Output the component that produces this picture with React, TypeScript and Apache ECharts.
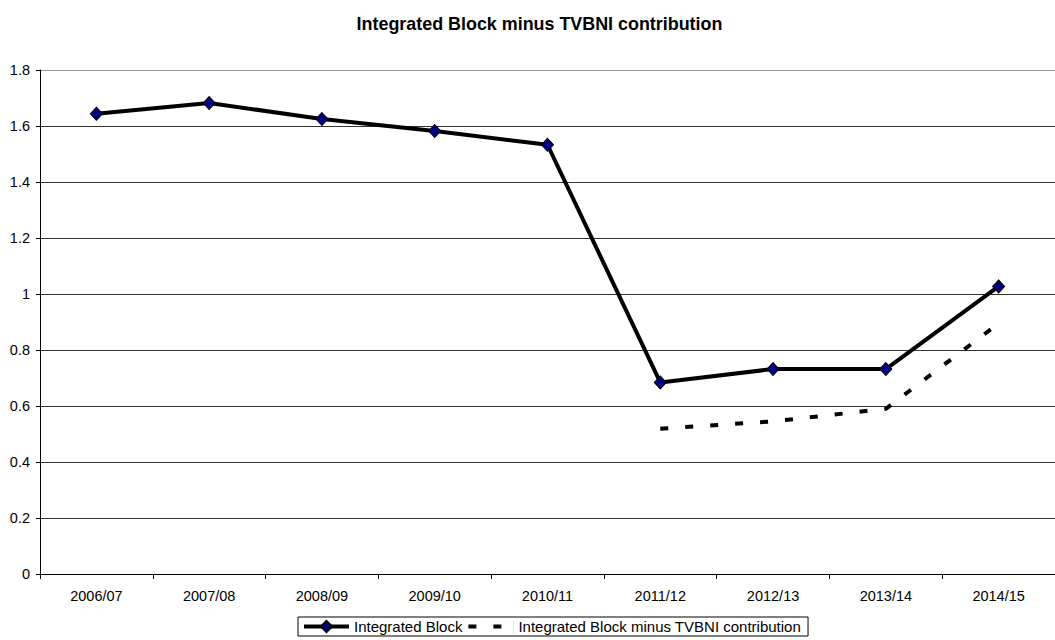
import React, { useEffect, useRef } from "react";
import * as echarts from "echarts";

const titleText = "Integrated Block minus TVBNI contribution";
const categories = ["2006/07", "2007/08", "2008/09", "2009/10", "2010/11", "2011/12", "2012/13", "2013/14", "2014/15"];
const integratedBlock = [1.644, 1.682, 1.625, 1.582, 1.533, 0.684, 0.732, 0.732, 1.027];
const minusTvbni = [null, null, null, null, null, 0.519, 0.545, 0.59, 0.895];
const seriesNames = ["Integrated Block", "Integrated Block minus TVBNI contribution"];

const FONT = "'Liberation Sans', Arial, sans-serif";
const DASH_ICON = "path://M0,5h8v4h-8z M25,5h8v4h-8z M44.9,0h0.1v14h-0.1z";

export default function App() {
  const ref = useRef<HTMLDivElement>(null);
  useEffect(() => {
    if (!ref.current) return;
    const chart = echarts.init(ref.current, undefined, { renderer: "svg" });
    chart.setOption({
      animation: false,
      backgroundColor: "#ffffff",
      title: {
        text: titleText,
        left: 534.5,
        top: 10,
        textAlign: "center",
        textStyle: { fontFamily: FONT, fontSize: 17.9, fontWeight: "bold", color: "#000" },
      },
      legend: {
        left: 298,
        top: 617,
        padding: [2, 7, 2, 4],
        itemWidth: 45,
        itemHeight: 14,
        itemGap: 6,
        borderColor: "#000",
        borderWidth: 1,
        textStyle: { fontFamily: FONT, fontSize: 15, color: "#000" },
        data: [
          { name: seriesNames[0], lineStyle: { width: 4, color: "#000" } },
          { name: seriesNames[1], icon: DASH_ICON, itemStyle: { color: "#000", borderWidth: 0 } },
        ],
      },
      grid: { left: 40, top: 70, width: 1024, height: 504, containLabel: false },
      xAxis: {
        type: "category",
        data: categories,
        boundaryGap: true,
        axisLine: { lineStyle: { color: "#000", width: 1 } },
        axisTick: { show: true, length: 5, interval: 0, lineStyle: { color: "#000" } },
        axisLabel: { fontFamily: FONT, fontSize: 14.5, color: "#000", margin: 14, interval: 0 },
        splitLine: { show: false },
      },
      yAxis: {
        type: "value",
        min: 0,
        max: 1.8,
        interval: 0.2,
        axisLine: { show: true, lineStyle: { color: "#000", width: 1 } },
        axisTick: { show: true, length: 4, lineStyle: { color: "#000" } },
        axisLabel: { fontFamily: FONT, fontSize: 14.5, color: "#000", margin: 10 },
        splitLine: {
          show: true,
          lineStyle: {
            color: ["#333", "#333", "#333", "#333", "#333", "#333", "#333", "#333", "#333", "#999"],
            width: 1,
          },
        },
      },
      series: [
        {
          name: seriesNames[0],
          type: "line",
          data: integratedBlock,
          symbol: "diamond",
          symbolSize: [12, 13],
          showAllSymbol: true,
          lineStyle: { color: "#000", width: 4 },
          itemStyle: { color: "#000080", borderColor: "#000", borderWidth: 1 },
          z: 3,
        },
        {
          name: seriesNames[1],
          type: "line",
          data: minusTvbni,
          symbol: "none",
          connectNulls: false,
          lineStyle: { color: "#000", width: 4, type: [8, 17], cap: "butt" },
          itemStyle: { color: "#000" },
          z: 2,
        },
      ],
    });
    return () => chart.dispose();
  }, []);
  return <div ref={ref} style={{ position: "absolute", left: 0, top: 0, width: 1055, height: 640 }} />;
}
